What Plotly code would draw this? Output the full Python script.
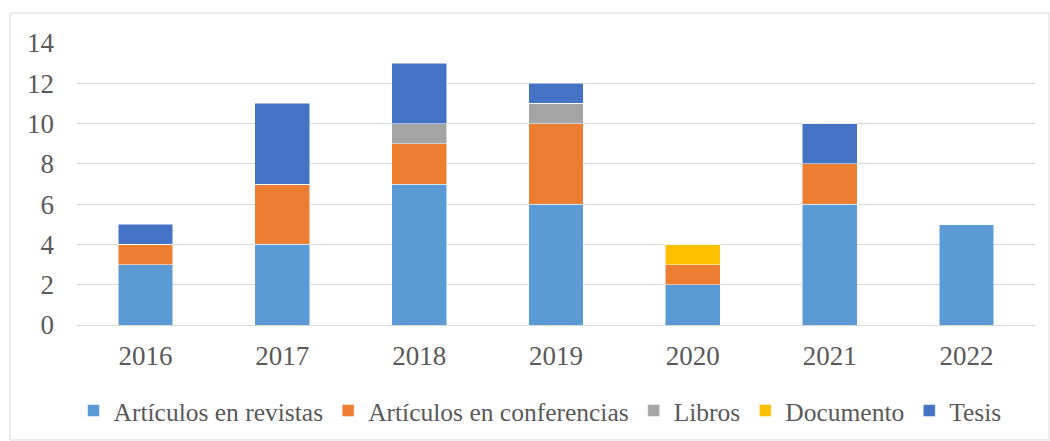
import plotly.graph_objects as go

years = ["2016", "2017", "2018", "2019", "2020", "2021", "2022"]
revistas = [3, 4, 7, 6, 2, 6, 5]
conferencias = [1, 3, 2, 4, 1, 2, 0]
libros = [0, 0, 1, 1, 0, 0, 0]
documento = [0, 0, 0, 0, 1, 0, 0]
tesis = [1, 4, 3, 1, 0, 2, 0]

series = [
    ("Artículos en revistas", revistas, "#5B9BD5"),
    ("Artículos en conferencias", conferencias, "#ED7D31"),
    ("Libros", libros, "#A5A5A5"),
    ("Documento", documento, "#FFC000"),
    ("Tesis", tesis, "#4472C4"),
]

fig = go.Figure()
for name, vals, color in series:
    fig.add_trace(go.Bar(
        x=years, y=vals, name=name,
        marker=dict(color=color, line=dict(color="white", width=0.5)),
    ))

W, H = 1050, 441
L, R, T, B = 77, 15, 43, 116
pw, ph = W - L - R, H - T - B

def px(x):
    return (x - L) / pw

def py(y):
    return (H - B - y) / ph

FONT = "Liberation Serif"
fig.update_layout(
    width=W, height=H,
    margin=dict(l=L, r=R, t=T, b=B, autoexpand=False),
    barmode="stack",
    bargap=0.6,
    plot_bgcolor="white",
    paper_bgcolor="white",
    font=dict(family=FONT, size=27, color="#595959"),
    showlegend=True,
    legend=dict(
        orientation="h", xref="container", yref="container",
        x=540 / W, xanchor="center", y=(H - 411) / H, yanchor="middle",
        font=dict(family=FONT, size=25.5, color="#595959"), traceorder="normal",
        itemwidth=30, tracegroupgap=0, bgcolor="rgba(0,0,0,0)",
    ),
    xaxis=dict(
        showgrid=False, showline=True, linecolor="#D9D9D9", linewidth=1,
        ticks="", ticklabelstandoff=7, zeroline=False, automargin=False,
        tickfont=dict(family=FONT, size=27, color="#595959"),
    ),
    yaxis=dict(
        range=[0, 14], dtick=2, showgrid=True, gridcolor="#D9D9D9", gridwidth=1,
        zeroline=False, showline=False, ticks="", ticklabelstandoff=22, automargin=False,
        tickfont=dict(family=FONT, size=27, color="#595959"),
    ),
    shapes=[dict(
        type="rect", xref="paper", yref="paper",
        x0=px(10), x1=px(1049), y0=py(440), y1=py(13),
        line=dict(color="#D9D9D9", width=1), fillcolor="rgba(0,0,0,0)", layer="below",
    )],
)

fig.write_html("out.html", config={"displayModeBar": False},
               post_script="document.body.style.margin='0px';")
